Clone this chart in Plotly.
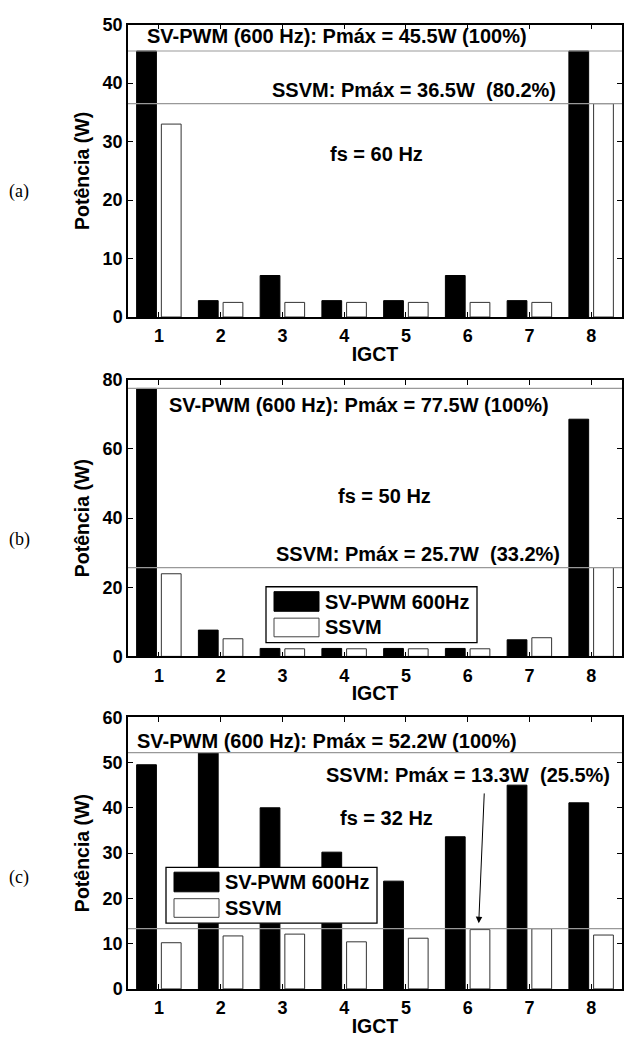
import plotly.graph_objects as go

igct = [1, 2, 3, 4, 5, 6, 7, 8]

# (a) fs = 60 Hz
svpwm_a = [45.5, 2.8, 7.1, 2.8, 2.8, 7.1, 2.8, 45.5]
ssvm_a = [33.0, 2.5, 2.5, 2.5, 2.5, 2.5, 2.5, 36.5]
pmax_a = [45.5, 36.5]

# (b) fs = 50 Hz
svpwm_b = [77.5, 7.6, 2.3, 2.3, 2.3, 2.3, 4.8, 68.6]
ssvm_b = [23.9, 5.1, 2.2, 2.2, 2.2, 2.2, 5.4, 25.7]
pmax_b = [77.5, 25.7]

# (c) fs = 32 Hz
svpwm_c = [49.5, 52.2, 40.0, 30.2, 23.8, 33.6, 45.0, 41.1]
ssvm_c = [10.2, 11.7, 12.1, 10.4, 11.2, 13.1, 13.3, 11.9]
pmax_c = [52.2, 13.3]

series_names = ["SV-PWM 600Hz", "SSVM"]

FONT = "Liberation Sans, Arial, sans-serif"
W, H = 624, 1046
fig = go.Figure()

panels = [("", svpwm_a, ssvm_a), ("2", svpwm_b, ssvm_b), ("3", svpwm_c, ssvm_c)]
for suf, sv, ss in panels:
    kw = dict(xaxis="x" + suf, yaxis="y" + suf, showlegend=False)
    fig.add_trace(go.Bar(x=igct, y=sv, name=series_names[0],
                         marker=dict(color="black", line=dict(color="black", width=1)), **kw))
    fig.add_trace(go.Bar(x=igct, y=ss, name=series_names[1],
                         marker=dict(color="white", line=dict(color="#333333", width=1)), **kw))

xdom = [128 / W, 622 / W]
ydoms = [[1 - 313 / H, 1 - 15 / H], [1 - 659 / H, 1 - 377 / H], [1 - 998 / H, 1 - 721 / H]]
yranges = [[0, 50], [0, 80], [0, 60]]
ydticks = [10, 20, 10]

tickfont = dict(family=FONT, size=18, color="black", weight="bold")
titlefont = dict(family=FONT, size=19.5, color="black", weight="bold")

layout = dict(
    width=W, height=H, margin=dict(l=0, r=0, t=0, b=0),
    paper_bgcolor="white", plot_bgcolor="white",
    barmode="group", bargap=0.2, bargroupgap=0.2,
    font=dict(family=FONT, color="black"),
    showlegend=False,
)
for i, suf in enumerate(["", "2", "3"]):
    layout["xaxis" + suf] = dict(
        domain=xdom, anchor="y" + suf, range=[0.5, 8.5],
        tickmode="array", tickvals=igct, ticktext=[str(v) for v in igct],
        ticks="inside", ticklen=5, tickcolor="black", tickwidth=1,
        showline=True, linecolor="black", linewidth=1.5, mirror="allticks",
        showgrid=False, zeroline=False, tickfont=tickfont, ticklabelstandoff=2,
        title=dict(text="IGCT", font=titlefont, standoff=2),
    )
    layout["yaxis" + suf] = dict(
        domain=ydoms[i], anchor="x" + suf, range=yranges[i], dtick=ydticks[i],
        ticks="inside", ticklen=5, tickcolor="black", tickwidth=1,
        showline=True, linecolor="black", linewidth=1.5, mirror="allticks",
        showgrid=False, zeroline=False, tickfont=tickfont,
        title=dict(text="Potência (W)", font=titlefont, standoff=8),
    )
fig.update_layout(**layout)

# Pmax reference lines
shapes = []
for suf, vals in [("", pmax_a), ("2", pmax_b), ("3", pmax_c)]:
    for v in vals:
        shapes.append(dict(type="line", xref="x" + suf + " domain", yref="y" + suf,
                           x0=0, x1=1, y0=v, y1=v, layer="above",
                           line=dict(color="#999999", width=1.2)))

afont = dict(family=FONT, size=20, color="black", weight="bold")
ann = []

# Legend boxes (b) and (c), drawn as a box with two swatches
def px(x):
    return x / W

def py(y):
    return 1 - y / H

for (bx, by) in [(266, 588), (166, 874)]:
    shapes.append(dict(type="rect", xref="paper", yref="paper", layer="above",
                       x0=px(bx), x1=px(bx + 211), y0=py(by), y1=py(by + 57),
                       fillcolor="white", line=dict(color="black", width=1.3)))
    shapes.append(dict(type="rect", xref="paper", yref="paper", layer="above",
                       x0=px(bx + 8), x1=px(bx + 53), y0=py(by + 5), y1=py(by + 25),
                       fillcolor="black", line=dict(color="black", width=1)))
    shapes.append(dict(type="rect", xref="paper", yref="paper", layer="above",
                       x0=px(bx + 8), x1=px(bx + 53), y0=py(by + 32), y1=py(by + 51),
                       fillcolor="white", line=dict(color="#444444", width=1)))
    for name, dy in zip(series_names, [15.5, 41.5]):
        ann.append(dict(xref="paper", yref="paper", x=px(bx + 57), y=py(by + dy),
                        text=name, showarrow=False, font=afont,
                        xanchor="left", yanchor="middle"))
fig.update_layout(shapes=shapes)

def txt(xr, yr, x, y, t):
    ann.append(dict(xref=xr, yref=yr, x=x, y=y, text=t, showarrow=False, font=afont,
                    xanchor="center", yanchor="middle"))

txt("x", "y", 3.88, 48.0, f"SV-PWM (600 Hz): Pmáx = {pmax_a[0]}W (100%)")
txt("x", "y", 5.13, 38.8, f"SSVM: Pmáx = {pmax_a[1]}W  (80.2%)")
txt("x", "y", 4.53, 27.9, "fs = 60 Hz")

txt("x2", "y2", 4.24, 72.6, f"SV-PWM (600 Hz): Pmáx = {pmax_b[0]}W (100%)")
txt("x2", "y2", 4.65, 46.5, "fs = 50 Hz")
txt("x2", "y2", 5.20, 29.5, f"SSVM: Pmáx = {pmax_b[1]}W  (33.2%)")

txt("x3", "y3", 3.72, 54.8, f"SV-PWM (600 Hz): Pmáx = {pmax_c[0]}W (100%)")
txt("x3", "y3", 6.01, 47.2, f"SSVM: Pmáx = {pmax_c[1]}W  (25.5%)")
txt("x3", "y3", 4.69, 37.7, "fs = 32 Hz")

ann.append(dict(xref="x3", yref="y3", axref="x3", ayref="y3", x=6.18, y=14.5,
                ax=6.27, ay=43.5, text="", showarrow=True, arrowhead=2,
                arrowsize=1.3, arrowwidth=1, arrowcolor="black"))

lfont = dict(family="Liberation Serif, Times New Roman, serif", size=18, color="black")
for lab, ly in [("(a)", 185), ("(b)", 540), ("(c)", 884)]:
    ann.append(dict(xref="paper", yref="paper", x=19 / W, y=py(ly), text=lab,
                    showarrow=False, font=lfont, xanchor="center", yanchor="middle"))
fig.update_layout(annotations=ann)

fig.write_html("out.html")
